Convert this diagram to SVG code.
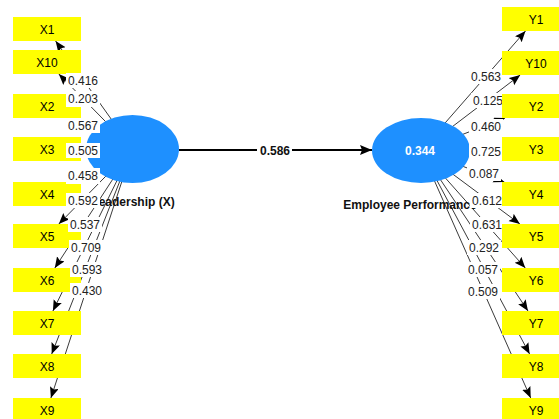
<svg xmlns="http://www.w3.org/2000/svg" width="559" height="419" viewBox="0 0 559 419">
  <defs>
    <marker id="tip" markerUnits="userSpaceOnUse" markerWidth="12" markerHeight="10" refX="11" refY="4.5" orient="auto">
      <path d="M0,0 L11,4.5 L0,9 L2,4.5 z" fill="#000"/>
    </marker>
    <marker id="tip-main" markerUnits="userSpaceOnUse" markerWidth="13" markerHeight="11" refX="12" refY="5" orient="auto">
      <path d="M0,0 L12,5 L0,10 L2,5 z" fill="#000"/>
    </marker>
    <style>
      .load { stroke: #3a3a3a; stroke-width: 1; fill: none; marker-end: url(#tip); }
      .path { stroke: #000; stroke-width: 2; fill: none; marker-end: url(#tip-main); }
      .box { fill: #ffff00; }
      .boxtxt { font-family: "Liberation Sans", Arial, sans-serif; font-size: 12px; fill: #000; text-anchor: middle; }
      .lv { fill: #1e90ff; }
      .lvname { font-family: "Liberation Sans", Arial, sans-serif; font-size: 12px; font-weight: bold; fill: #111; text-anchor: middle; }
      .r2 { font-family: "Liberation Sans", Arial, sans-serif; font-size: 12px; font-weight: bold; fill: #fff; text-anchor: middle; }
      .lblbg { fill: #fff; }
      .lbl { font-family: "Liberation Sans", Arial, sans-serif; font-size: 12px; fill: #222; text-anchor: middle; }
      .lblb { font-family: "Liberation Sans", Arial, sans-serif; font-size: 12px; font-weight: bold; fill: #111; text-anchor: middle; }
    </style>
  </defs>
  <rect x="0" y="0" width="559" height="419" fill="#fff"/>

  <!-- connector lines -->
  <g id="connectors">
    <line class="load" x1="132.5" y1="149" x2="55.6" y2="41"/>
    <line class="load" x1="132.5" y1="149" x2="58.8" y2="74"/>
    <line class="load" x1="132.5" y1="149" x2="70.9" y2="118"/>
    <line class="load" x1="132.5" y1="149" x2="81" y2="149"/>
    <line class="load" x1="132.5" y1="149" x2="69.8" y2="182"/>
    <line class="load" x1="132.5" y1="149" x2="58.8" y2="224"/>
    <line class="load" x1="132.5" y1="149" x2="54.8" y2="268"/>
    <line class="load" x1="132.5" y1="149" x2="52.9" y2="311"/>
    <line class="load" x1="132.5" y1="149" x2="51.7" y2="354"/>
    <line class="load" x1="132.5" y1="149" x2="50.9" y2="398"/>

    <line class="load" x1="421" y1="150.5" x2="525.5" y2="31"/>
    <line class="load" x1="421" y1="150.5" x2="520.2" y2="75"/>
    <line class="load" x1="421" y1="150.5" x2="505" y2="118"/>
    <line class="load" x1="421" y1="150.5" x2="502" y2="149.4"/>
    <line class="load" x1="421" y1="150.5" x2="504.3" y2="182"/>
    <line class="load" x1="421" y1="150.5" x2="519.9" y2="224"/>
    <line class="load" x1="421" y1="150.5" x2="525.3" y2="268"/>
    <line class="load" x1="421" y1="150.5" x2="528" y2="311"/>
    <line class="load" x1="421" y1="150.5" x2="529.6" y2="354"/>
    <line class="load" x1="421" y1="150.5" x2="530.7" y2="398"/>

    <line class="path" x1="179" y1="150" x2="372" y2="150"/>
  </g>

  <!-- X indicators -->
  <g id="X1"><rect class="box" x="13" y="17" width="68" height="24"/><text class="boxtxt" x="47" y="33.5">X1</text></g>
  <g id="X10"><rect class="box" x="13" y="50" width="68" height="24"/><text class="boxtxt" x="47" y="66.5">X10</text></g>
  <g id="X2"><rect class="box" x="13" y="94" width="68" height="24"/><text class="boxtxt" x="47" y="110.5">X2</text></g>
  <g id="X3"><rect class="box" x="13" y="137" width="68" height="24"/><text class="boxtxt" x="47" y="153.5">X3</text></g>
  <g id="X4"><rect class="box" x="13" y="182" width="68" height="24"/><text class="boxtxt" x="47" y="198.5">X4</text></g>
  <g id="X5"><rect class="box" x="13" y="224" width="68" height="24"/><text class="boxtxt" x="47" y="240.5">X5</text></g>
  <g id="X6"><rect class="box" x="13" y="268" width="68" height="24"/><text class="boxtxt" x="47" y="284.5">X6</text></g>
  <g id="X7"><rect class="box" x="13" y="311" width="68" height="24"/><text class="boxtxt" x="47" y="327.5">X7</text></g>
  <g id="X8"><rect class="box" x="13" y="354" width="68" height="24"/><text class="boxtxt" x="47" y="370.5">X8</text></g>
  <g id="X9"><rect class="box" x="13" y="398" width="68" height="24"/><text class="boxtxt" x="47" y="414.5">X9</text></g>

  <!-- latent variables -->
  <g id="leadership">
    <ellipse class="lv" cx="132.5" cy="149" rx="46.5" ry="34"/>
    <text class="lvname" x="133" y="206">Leadership (X)</text>
  </g>
  <g id="performance">
    <ellipse class="lv" cx="421" cy="150.5" rx="49" ry="32.5"/>
    <text class="r2" x="420" y="155">0.344</text>
    <text class="lvname" x="410" y="209">Employee Performance</text>
  </g>

  <!-- connector labels -->
  <g id="connector-labels">
    <rect class="lblbg" x="66" y="73" width="34" height="15"/><text class="lbl" x="83" y="84.5">0.416</text>
    <rect class="lblbg" x="66" y="91" width="34" height="16"/><text class="lbl" x="83" y="102.5">0.203</text>
    <rect class="lblbg" x="66" y="118" width="34" height="15"/><text class="lbl" x="83" y="129.5">0.567</text>
    <rect class="lblbg" x="66" y="143" width="34" height="15"/><text class="lbl" x="83" y="154.5">0.505</text>
    <rect class="lblbg" x="66" y="168" width="34" height="16"/><text class="lbl" x="83" y="179.5">0.458</text>
    <rect class="lblbg" x="66" y="193" width="34" height="15"/><text class="lbl" x="83" y="204.5">0.592</text>
    <rect class="lblbg" x="68" y="217" width="34" height="15"/><text class="lbl" x="85" y="228.5">0.537</text>
    <rect class="lblbg" x="69" y="240" width="34" height="15"/><text class="lbl" x="86" y="251.5">0.709</text>
    <rect class="lblbg" x="70" y="262" width="34" height="15"/><text class="lbl" x="87" y="273.5">0.593</text>
    <rect class="lblbg" x="70" y="283" width="34" height="15"/><text class="lbl" x="87" y="294.5">0.430</text>

    <rect class="lblbg" x="469" y="69" width="34" height="15"/><text class="lbl" x="486" y="80.5">0.563</text>
    <rect class="lblbg" x="471" y="93" width="34" height="15"/><text class="lbl" x="488" y="104.5">0.125</text>
    <rect class="lblbg" x="469" y="119" width="34" height="15"/><text class="lbl" x="486" y="130.5">0.460</text>
    <rect class="lblbg" x="469" y="144" width="34" height="15"/><text class="lbl" x="486" y="155.5">0.725</text>
    <rect class="lblbg" x="467" y="166" width="34" height="15"/><text class="lbl" x="484" y="177.5">0.087</text>
    <rect class="lblbg" x="470" y="193" width="34" height="15"/><text class="lbl" x="487" y="204.5">0.612</text>
    <rect class="lblbg" x="470" y="217" width="34" height="15"/><text class="lbl" x="487" y="228.5">0.631</text>
    <rect class="lblbg" x="467" y="240" width="34" height="15"/><text class="lbl" x="484" y="251.5">0.292</text>
    <rect class="lblbg" x="466" y="262" width="34" height="15"/><text class="lbl" x="483" y="273.5">0.057</text>
    <rect class="lblbg" x="466" y="284" width="34" height="15"/><text class="lbl" x="483" y="295.5">0.509</text>

    <rect class="lblbg" x="257" y="143" width="35" height="15"/><text class="lblb" x="275" y="155">0.586</text>
  </g>

  <!-- Y indicators -->
  <g id="Y1"><rect class="box" x="502" y="7" width="68" height="24"/><text class="boxtxt" x="536" y="23.5">Y1</text></g>
  <g id="Y10"><rect class="box" x="502" y="51" width="68" height="24"/><text class="boxtxt" x="536" y="67.5">Y10</text></g>
  <g id="Y2"><rect class="box" x="502" y="94" width="68" height="24"/><text class="boxtxt" x="536" y="110.5">Y2</text></g>
  <g id="Y3"><rect class="box" x="502" y="137" width="68" height="24"/><text class="boxtxt" x="536" y="153.5">Y3</text></g>
  <g id="Y4"><rect class="box" x="502" y="182" width="68" height="24"/><text class="boxtxt" x="536" y="198.5">Y4</text></g>
  <g id="Y5"><rect class="box" x="502" y="224" width="68" height="24"/><text class="boxtxt" x="536" y="240.5">Y5</text></g>
  <g id="Y6"><rect class="box" x="502" y="268" width="68" height="24"/><text class="boxtxt" x="536" y="284.5">Y6</text></g>
  <g id="Y7"><rect class="box" x="502" y="311" width="68" height="24"/><text class="boxtxt" x="536" y="327.5">Y7</text></g>
  <g id="Y8"><rect class="box" x="502" y="354" width="68" height="24"/><text class="boxtxt" x="536" y="370.5">Y8</text></g>
  <g id="Y9"><rect class="box" x="502" y="398" width="68" height="24"/><text class="boxtxt" x="536" y="414.5">Y9</text></g>
</svg>
